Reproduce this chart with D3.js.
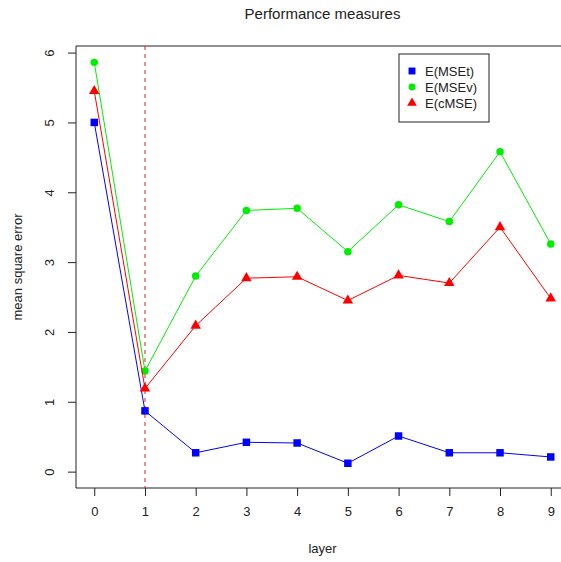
<!DOCTYPE html>
<html lang="en">
<head>
<meta charset="UTF-8">
<title>Performance measures</title>
<script src="https://d3js.org/d3.v7.min.js"></script>
<style>
  body { margin: 0; background: #fff; overflow: hidden; }
  svg text { font-family: "Liberation Sans", Arial, sans-serif; fill: #222; }
</style>
</head>
<body>
<div id="chart"></div>
<script>
// data
const layers = [0, 1, 2, 3, 4, 5, 6, 7, 8, 9];
const mseT = [5.00, 0.87, 0.27, 0.42, 0.41, 0.12, 0.51, 0.27, 0.27, 0.21];
const mseV = [5.86, 1.44, 2.80, 3.74, 3.77, 3.15, 3.82, 3.58, 4.58, 3.26];
const cMSE = [5.45, 1.19, 2.09, 2.77, 2.79, 2.45, 2.81, 2.70, 3.50, 2.48];
const yTicks = [0, 1, 2, 3, 4, 5, 6];
const legendLabels = ["E(MSEt)", "E(MSEv)", "E(cMSE)"];

const W = 561, H = 562;
const box = { left: 76, right: 569, top: 46, bottom: 488 };

const svg = d3.select("#chart").append("svg")
    .attr("width", W).attr("height", H);

// R style: 4% padding around data range
const x = d3.scaleLinear().domain([-0.36, 9.36]).range([box.left, box.right]);
const y = d3.scaleLinear().domain([-0.2344, 6.0944]).range([box.bottom, box.top]);

// plot frame (right side falls outside the picture)
const frame = svg.append("path")
    .attr("d", `M${W},${box.top}H${box.left}V${box.bottom}H${W}`)
    .attr("fill", "none").attr("stroke", "#222").attr("stroke-width", 1);

// axes
const xAxis = svg.append("g")
    .attr("transform", `translate(0,${box.bottom})`)
    .call(d3.axisBottom(x).tickValues(layers).tickSize(8).tickPadding(11).tickFormat(d3.format("d")));
xAxis.select(".domain").remove();
xAxis.selectAll("line").attr("stroke", "#222");
xAxis.selectAll("text").attr("font-size", 13).attr("fill", "#222");

const yAxis = svg.append("g")
    .attr("transform", `translate(${box.left},0)`)
    .call(d3.axisLeft(y).tickValues(yTicks).tickSize(8).tickFormat(d3.format("d")));
yAxis.select(".domain").remove();
yAxis.selectAll("line").attr("stroke", "#222");
yAxis.selectAll("text")
    .attr("font-size", 13).attr("fill", "#222")
    .attr("x", 0).attr("dy", null)
    .attr("text-anchor", "middle")
    .attr("transform", "translate(-25,0) rotate(-90)")
    .attr("dominant-baseline", "middle");

// titles
svg.append("text")
    .attr("x", (box.left + box.right) / 2).attr("y", 19)
    .attr("text-anchor", "middle").attr("font-size", 15)
    .text("Performance measures");
svg.append("text")
    .attr("x", (box.left + box.right) / 2).attr("y", 553)
    .attr("text-anchor", "middle").attr("font-size", 13)
    .text("layer");
svg.append("text")
    .attr("transform", `translate(22,${(box.top + box.bottom) / 2}) rotate(-90)`)
    .attr("text-anchor", "middle").attr("font-size", 13)
    .text("mean square error");

// vertical dashed marker at layer 1
svg.append("line")
    .attr("x1", x(1)).attr("x2", x(1))
    .attr("y1", box.top).attr("y2", box.bottom)
    .attr("stroke", "#e02020").attr("stroke-width", 1)
    .attr("stroke-dasharray", "4,4");

const series = [
    { name: legendLabels[0], values: mseT, color: "#0000ff", shape: d3.symbolSquare, size: 56 },
    { name: legendLabels[1], values: mseV, color: "#00ee00", shape: d3.symbolCircle, size: 44 },
    { name: legendLabels[2], values: cMSE, color: "#ff0000", shape: d3.symbolTriangle, size: 48 }
];

const line = d3.line().x((d, i) => x(layers[i])).y(d => y(d));

series.forEach(s => {
    svg.append("path")
        .attr("d", line(s.values))
        .attr("fill", "none").attr("stroke", s.color).attr("stroke-width", 1);
    svg.selectAll(null)
        .data(s.values)
        .enter()
        .append("path")
        .attr("d", d3.symbol().type(s.shape).size(s.size))
        .attr("transform", (d, i) => `translate(${x(layers[i])},${y(d)})`)
        .attr("fill", s.color);
});

// legend
const lg = svg.append("g").attr("transform", "translate(399,54)");
lg.append("rect")
    .attr("width", 90).attr("height", 68)
    .attr("fill", "#fff").attr("stroke", "#222").attr("stroke-width", 1);
series.forEach((s, i) => {
    const cy = 17 + i * 16;
    lg.append("path")
        .attr("d", d3.symbol().type(s.shape).size(s.size * 0.85))
        .attr("transform", `translate(13,${cy})`)
        .attr("fill", s.color);
    lg.append("text")
        .attr("x", 26).attr("y", cy)
        .attr("dy", "0.35em").attr("font-size", 13)
        .text(s.name);
});
</script>
</body>
</html>
